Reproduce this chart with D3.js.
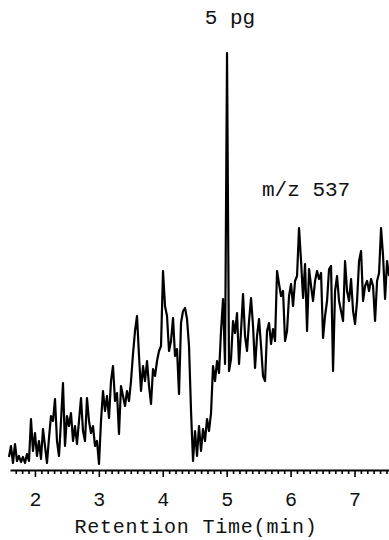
<!DOCTYPE html>
<html>
<head>
<meta charset="utf-8">
<script src="https://cdn.jsdelivr.net/npm/d3@7"></script>
<style>
  html, body { margin: 0; padding: 0; background: #fff; }
  svg { display: block; }
  text { font-family: "Liberation Mono", "DejaVu Sans Mono", monospace; fill: #111; }
</style>
</head>
<body>
<script>
// Selected ion chromatogram, m/z 537, 5 pg injection
const scanStart = 1.594;   // min, retention time of first scan
const scanStep = 0.0313;   // min between scans

// Ion abundance per scan (arbitrary units)
const intensity = [
  13, 24, 7, 26, 9, 14, 8, 13, 7, 16,
  9, 51, 19, 37, 14, 29, 11, 41, 24, 7,
  32, 54, 49, 71, 29, 14, 49, 87, 24, 54,
  44, 57, 29, 44, 26, 49, 72, 39, 29, 72,
  49, 37, 44, 24, 29, 6, 49, 79, 59, 74,
  52, 89, 104, 69, 77, 36, 84, 74, 64, 79,
  69, 89, 116, 139, 154, 114, 79, 104, 89, 109,
  84, 66, 101, 94, 109, 119, 124, 199, 164, 154,
  119, 129, 152, 114, 121, 76, 147, 159, 162, 151,
  124, 59, 9, 39, 14, 44, 19, 41, 29, 51,
  39, 57, 104, 89, 109, 97, 139, 171, 106, 417,
  99, 111, 149, 137, 157, 106, 139, 176, 134, 119,
  149, 172, 144, 102, 134, 151, 124, 94, 89, 139,
  147, 126, 141, 129, 199, 186, 174, 179, 129, 139,
  174, 186, 164, 189, 194, 242, 209, 172, 206, 139,
  201, 184, 169, 189, 199, 191, 197, 132, 154, 169,
  201, 204, 99, 179, 194, 169, 159, 149, 209, 179,
  169, 191, 159, 146, 169, 209, 219, 169, 184, 189,
  179, 191, 184, 149, 189, 197, 242, 214, 171, 209,
  194
];

const majorTicks = [2, 3, 4, 5, 6, 7];
const tickLabels = ["2", "3", "4", "5", "6", "7"];
const minorTicks = [
  1.7, 1.8, 1.9, 2.1, 2.2, 2.3, 2.4, 2.5, 2.6, 2.7, 2.8, 2.9,
  3.1, 3.2, 3.3, 3.4, 3.5, 3.6, 3.7, 3.8, 3.9,
  4.1, 4.2, 4.3, 4.4, 4.5, 4.6, 4.7, 4.8, 4.9,
  5.1, 5.2, 5.3, 5.4, 5.5, 5.6, 5.7, 5.8, 5.9,
  6.1, 6.2, 6.3, 6.4, 6.5, 6.6, 6.7, 6.8, 6.9,
  7.1, 7.2, 7.3, 7.4, 7.5
];
const xTitle = "Retention Time(min)";
const amountLabel = "5 pg";
const ionLabel = "m/z 537";

const W = 389, H = 540;
const axisY = 470;

const svg = d3.select("body").append("svg")
  .attr("width", W).attr("height", H);

const x = d3.scaleLinear().domain([1.61, 7.54]).range([10, 389]);
const y = d3.scaleLinear().domain([0, 420]).range([axisY, 50]);

const points = intensity.map((v, i) => [scanStart + i * scanStep, v]);

// Trace
svg.append("path")
  .datum(points)
  .attr("fill", "none")
  .attr("stroke", "#000")
  .attr("stroke-width", 2.2)
  .attr("stroke-linejoin", "round")
  .attr("d", d3.line().x(d => x(d[0])).y(d => y(d[1])));

// Time axis: minor ticks every 0.1 min, longer ticks with labels at whole minutes
const gMinor = svg.append("g")
  .attr("transform", `translate(0,${axisY})`)
  .call(d3.axisBottom(x).tickValues(minorTicks).tickSize(4).tickSizeOuter(0).tickFormat(""));
gMinor.select(".domain").attr("stroke", "#000").attr("stroke-width", 2);
gMinor.selectAll(".tick line").attr("stroke", "#000").attr("stroke-width", 1.6);

const gMajor = svg.append("g")
  .attr("transform", `translate(0,${axisY})`)
  .call(d3.axisBottom(x).tickValues(majorTicks).tickSize(7).tickSizeOuter(0)
    .tickFormat((d, i) => tickLabels[i]));
gMajor.select(".domain").remove();
gMajor.selectAll(".tick line").attr("stroke", "#000").attr("stroke-width", 1.6);
gMajor.selectAll(".tick text")
  .attr("y", 0).attr("dy", null)
  .attr("transform", "translate(0,36)")
  .style("font-family", '"Liberation Mono", "DejaVu Sans Mono", monospace')
  .style("font-size", "20px")
  .attr("fill", "#111");

svg.append("text")
  .attr("x", 196).attr("y", 533)
  .attr("text-anchor", "middle")
  .style("font-size", "20px")
  .style("letter-spacing", "0.8px")
  .text(xTitle);

svg.append("text")
  .attr("x", x(5.005) + 3).attr("y", 24)
  .attr("text-anchor", "middle")
  .style("font-size", "21px")
  .text(amountLabel);

svg.append("text")
  .attr("x", 262).attr("y", 196)
  .style("font-size", "21px")
  .text(ionLabel);
</script>
</body>
</html>
